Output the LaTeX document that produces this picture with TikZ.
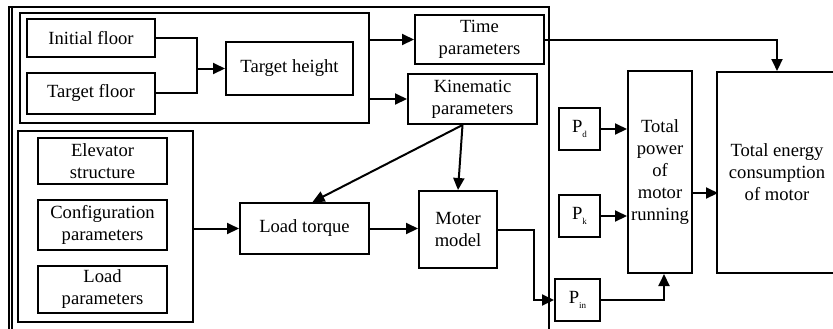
\documentclass[tikz,border=0pt]{standalone}
\usepackage{fontspec}
\setmainfont{Liberation Serif}
\newfontfamily\diagfont{Liberation Serif}
\usepackage{tikz}
\usetikzlibrary{arrows.meta, positioning, calc}
\newcommand{\psub}[1]{P\raisebox{-0.5ex}{\fontsize{4.5}{5}\selectfont #1}}
\tikzset{
  block/.style={rectangle, draw, line width=1pt, align=center, inner sep=1pt, font=\diagfont\fontsize{9.3}{11}\selectfont},
  frame/.style={rectangle, draw, line width=1pt, inner sep=0pt},
  arrow/.style={-{Triangle[length=6pt,width=5.5pt]}, line width=1pt},
  line/.style={line width=1pt}
}
\begin{document}
\begin{tikzpicture}[x=0.5pt, y=-0.5pt]
  \useasboundingbox (0,0) rectangle (833,328);
  % Outer frame (open at the bottom)
  \draw[line] (9,340) -- (9,7) -- (549,7) -- (549,340);
  \draw[line] (12,7) -- (12,340);

  % Floor / height group
  \node[frame, minimum width=174.5pt, minimum height=55pt] (topbox) at (194.5,68) {};
  \node[block, minimum width=64pt, minimum height=19pt] (initfloor) at (91,38) {Initial floor};
  \node[block, minimum width=64pt, minimum height=20.5pt] (targetfloor) at (91,93) {Target floor};
  \node[block, minimum width=63.5pt, minimum height=26.5pt] (targetheight) at (289.5,68.5) {Target height};
  \coordinate (join) at (197,68.5);
  \draw[line] (initfloor.east) -| (join);
  \draw[line] (targetfloor.east) -| (join);
  \draw[arrow] (join) -- (targetheight.west);

  \node[block, minimum width=64.5pt, minimum height=24.5pt] (timeparam) at (479.5,39.5) {Time\\parameters};
  \node[block, minimum width=64.5pt, minimum height=25pt] (kinparam) at (472.5,99) {Kinematic\\parameters};
  \draw[arrow] (timeparam.west -| topbox.east) -- (timeparam.west);
  \draw[arrow] (kinparam.west -| topbox.east) -- (kinparam.west);

  % Structure / load group
  \node[frame, minimum width=87.5pt, minimum height=95.5pt] (botbox) at (105.5,226.5) {};
  \node[block, minimum width=64.5pt, minimum height=23pt] (elevstruct) at (102.5,161) {Elevator\\structure};
  \node[block, minimum width=64.5pt, minimum height=25pt] (configparam) at (102.5,225) {Configuration\\parameters};
  \node[block, minimum width=64.5pt, minimum height=23.5pt] (loadparam) at (102.5,289.5) {Load\\parameters};

  \node[block, minimum width=64.5pt, minimum height=25.5pt] (loadtorque) at (304.5,228.5) {Load torque};
  \node[block, minimum width=39pt, minimum height=38.5pt] (motermodel) at (458,229.5) {Moter\\model};
  \draw[arrow] (loadtorque.west -| botbox.east) -- (loadtorque.west);
  \draw[arrow] (loadtorque.east) -- (loadtorque.east -| motermodel.west);
  \draw[arrow] ([xshift=-5pt]kinparam.south) -- ([xshift=4pt]loadtorque.north);
  \draw[arrow] ([xshift=-5pt]kinparam.south) -- (motermodel.north);

  % Power and energy
  \node[block, minimum width=20.5pt, minimum height=21pt] (pd) at (579.5,129) {\psub{d}};
  \node[block, minimum width=20.5pt, minimum height=21pt] (pk) at (579.5,216) {\psub{k}};
  \node[block, minimum width=22.5pt, minimum height=21pt] (pin) at (577.5,300) {\psub{in}};
  \node[block, minimum width=32pt, minimum height=101pt] (totpower) at (660,172) {Total\\power\\of\\motor\\running};
  \node[block, minimum width=60pt, minimum height=100.5pt] (totenergy) at (777,172.5) {Total energy\\consumption\\of motor};

  \draw[arrow] (motermodel.east) -- ++(18pt,0) |- (pin.west);
  \draw[arrow] (pd.east) -- (pd.east -| totpower.west);
  \draw[arrow] (pk.east) -- (pk.east -| totpower.west);
  \draw[arrow] (pin.east) -| ([xshift=2pt]totpower.south);
  \draw[arrow] ([yshift=-10.5pt]totpower.east) -- ++(12.5pt,0);
  \draw[arrow] (timeparam.east) -| (totenergy.north);
\end{tikzpicture}
\end{document}
